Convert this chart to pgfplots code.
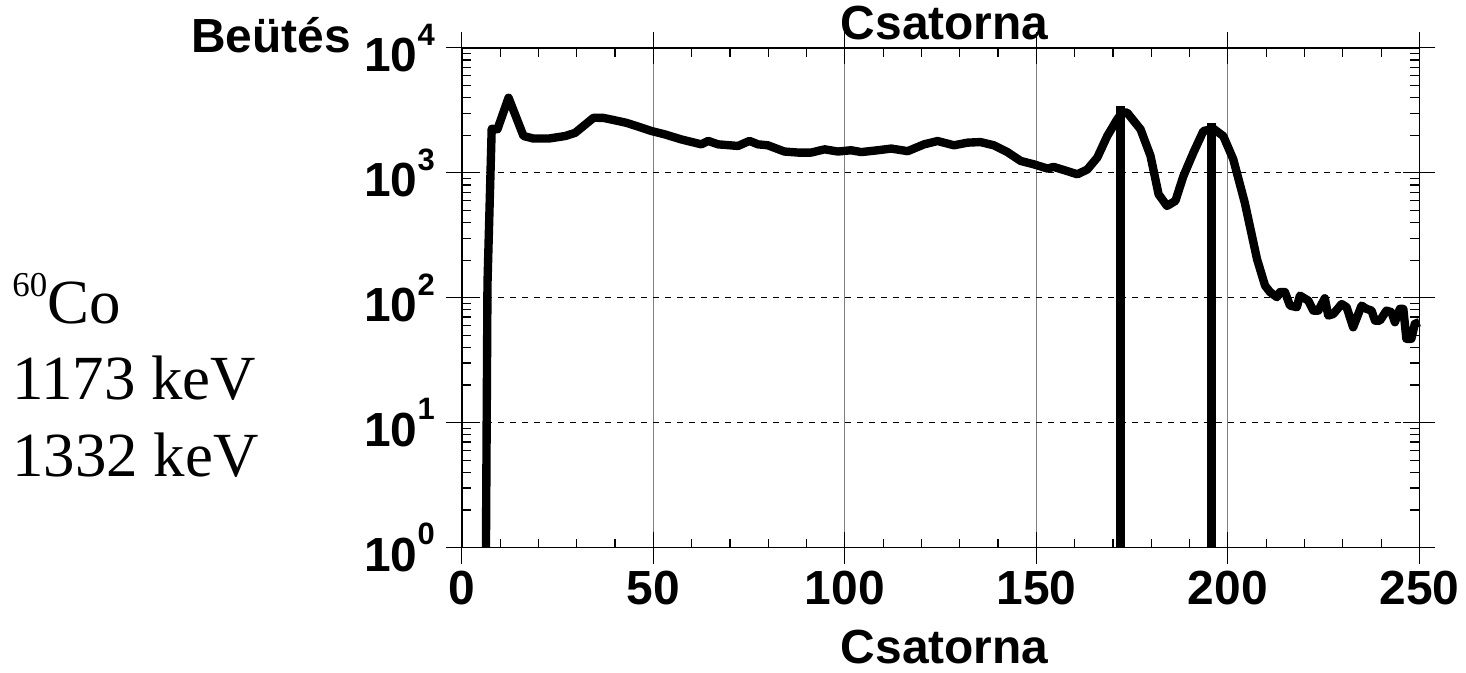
\documentclass[border=0pt]{standalone}
\usepackage{fontspec}
\setmainfont{Liberation Sans}
\newfontfamily\timesf{Liberation Serif}
\usepackage{pgfplots}
\pgfplotsset{compat=1.18}

% spectrum (channel, counts)
\pgfplotstableread{
ch counts
6.3 1
6.7 130
7.8 2250
9.3 2230
12.2 3990
16.1 1970
18.7 1880
22.7 1880
27 1970
29.6 2090
32.2 2430
34.4 2760
37 2750
40 2630
43 2510
46.1 2340
49.5 2160
53 2030
57.3 1850
62.5 1690
64.3 1800
66.9 1690
72.1 1640
75.1 1800
77.3 1690
79.9 1660
84.2 1480
87.8 1452
91.2 1452
94.7 1541
98.2 1480
101.6 1515
104.3 1465
108.6 1515
112.1 1563
116.4 1490
120.7 1690
124.2 1796
128.5 1660
132 1743
135.4 1762
138.9 1660
142.4 1468
145.9 1244
149.3 1170
152.9 1081
154.5 1115
157.1 1054
160.7 973
163.3 1063
165.9 1324
168.5 1968
171.1 2679
172.5 3050
173.7 3028
177.2 2228
179.8 1364
181.9 674
184.1 543
186.3 596
188.4 944
191 1452
193.6 2158
196.2 2255
198.8 1968
201.4 1283
204.4 578
207.6 204
209.7 125
211 111
212.8 101
213.6 111
214.9 111
216.2 86.5
218 84
218.8 104
221 94.8
222.3 78.9
223.6 78.9
225.3 99
226.2 72
227.5 74
229.7 89
231 84
232.7 58
234.9 86.5
236.2 81.4
237.5 78.9
238.4 65.6
239.7 65.6
241.4 78.9
242.7 76.6
243.6 63.7
244.9 81.4
245.8 81.4
246.6 46.9
247.9 46.9
248.8 61.8
250 63.7
}\spectrum

\newcommand{\tl}[1]{10\raisebox{0.55em}{\fontsize{15.5}{15.5}\selectfont #1}}

\begin{document}
\begin{tikzpicture}
\begin{axis}[
    scale only axis=true,
    width=480pt, height=250.5pt,
    xmin=0, xmax=250,
    ymode=log, ymin=1, ymax=10000,
    xtick={0,50,...,250},
    minor x tick num=4,
    ytick={1,10,100,1000,10000},
    yticklabels={\tl{0},\tl{1},\tl{2},\tl{3},\tl{4}},
    tick align=inside,
    major tick length=8pt,
    minor tick length=4.5pt,
    extra x ticks={0,50,...,250},
    extra x tick labels={},
    extra x tick style={tick align=outside, xmajorgrids=false},
    extra y ticks={1,10,100,1000,10000},
    extra y tick labels={},
    extra y tick style={tick align=outside, ymajorgrids=false},
    xmajorgrids=true, ymajorgrids=true,
    x grid style={gray, line width=0.5pt},
    y grid style={black, dashed, line width=0.4pt},
    axis line style={line width=0.75pt},
    every tick/.style={black, line width=0.6pt},
    /pgf/number format/assume math mode=true,
    tick label style={font=\bfseries\fontsize{24}{24}\selectfont},
    xticklabel style={yshift=-8pt},
    yticklabel style={xshift=-10pt},
    clip=false,
]
\addplot[black, line width=4.2pt, line join=round] table[x=ch, y=counts] {\spectrum};
\addplot[black, line width=4.5pt] coordinates {(172,1) (172,3420)};
\addplot[black, line width=4.5pt] coordinates {(195.7,1) (195.7,2490)};
\coordinate (bl) at (rel axis cs:0,0);
\coordinate (tr) at (rel axis cs:1,1);
\node[anchor=base, inner sep=0pt, font=\bfseries\fontsize{24}{24}\selectfont] at ([xshift=2pt, yshift=4pt]rel axis cs:0.5,1) {Csatorna};
\node[anchor=base, inner sep=0pt, font=\bfseries\fontsize{24}{24}\selectfont] at ([xshift=2pt, yshift=-58pt]rel axis cs:0.5,0) {Csatorna};
\node[anchor=base east, inner sep=0pt, font=\bfseries\fontsize{24}{24}\selectfont] at ([xshift=-55.5pt, yshift=-2.5pt]rel axis cs:0,1) {Beütés};
\node[anchor=base west, inner sep=0pt, font=\timesf\fontsize{31.5}{31.5}\selectfont] at ([xshift=-225.5pt, yshift=-138pt]rel axis cs:0,1) {\raisebox{0.42em}{\fontsize{17.5}{17.5}\selectfont 60}Co};
\node[anchor=base west, inner sep=0pt, font=\timesf\fontsize{31.5}{31.5}\selectfont] at ([xshift=-225.5pt, yshift=-176.3pt]rel axis cs:0,1) {1173 keV};
\node[anchor=base west, inner sep=0pt, font=\timesf\fontsize{31.5}{31.5}\selectfont] at ([xshift=-225.5pt, yshift=-215pt]rel axis cs:0,1) {1332 keV};
\end{axis}
\path ([xshift=-231.5pt, yshift=-62.5pt]bl) rectangle ([xshift=21.5pt, yshift=24pt]tr);
\end{tikzpicture}
\end{document}
